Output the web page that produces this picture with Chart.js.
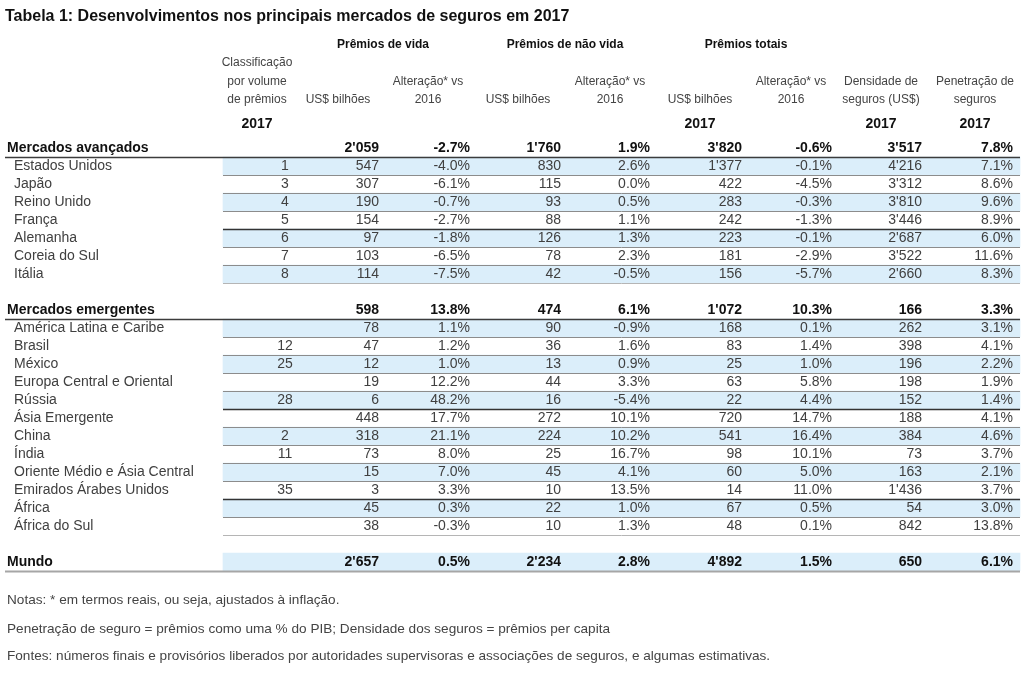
<!DOCTYPE html>
<html lang="pt">
<head>
<meta charset="utf-8">
<title>Tabela 1</title>
<script src="https://cdn.jsdelivr.net/npm/chart.js@4/dist/chart.umd.min.js"></script>
<style>
  body { margin: 0; background: #fff; }
  #box { width: 1024px; height: 673px; position: relative; }
</style>
</head>
<body>
<div id="box"><canvas id="tabela"></canvas></div>
<script>
// dados da tabela (linhas vazias = null)
const linhas = ['Mercados avançados', 'Estados Unidos', 'Japão', 'Reino Unido', 'França', 'Alemanha', 'Coreia do Sul', 'Itália', '',
  'Mercados emergentes', 'América Latina e Caribe', 'Brasil', 'México', 'Europa Central e Oriental', 'Rússia', 'Ásia Emergente',
  'China', 'Índia', 'Oriente Médio e Ásia Central', 'Emirados Árabes Unidos', 'África', 'África do Sul', '', 'Mundo'];

const classificacao = [null, 1, 3, 4, 5, 6, 7, 8, null, null, null, 12, 25, null, 28, null, 2, 11, null, 35, null, null, null, null];
const vidaUSD = [2059, 547, 307, 190, 154, 97, 103, 114, null, 598, 78, 47, 12, 19, 6, 448, 318, 73, 15, 3, 45, 38, null, 2657];
const vidaVar = [-2.7, -4.0, -6.1, -0.7, -2.7, -1.8, -6.5, -7.5, null, 13.8, 1.1, 1.2, 1.0, 12.2, 48.2, 17.7, 21.1, 8.0, 7.0, 3.3, 0.3, -0.3, null, 0.5];
const naoVidaUSD = [1760, 830, 115, 93, 88, 126, 78, 42, null, 474, 90, 36, 13, 44, 16, 272, 224, 25, 45, 10, 22, 10, null, 2234];
const naoVidaVar = [1.9, 2.6, 0.0, 0.5, 1.1, 1.3, 2.3, -0.5, null, 6.1, -0.9, 1.6, 0.9, 3.3, -5.4, 10.1, 10.2, 16.7, 4.1, 13.5, 1.0, 1.3, null, 2.8];
const totalUSD = [3820, 1377, 422, 283, 242, 223, 181, 156, null, 1072, 168, 83, 25, 63, 22, 720, 541, 98, 60, 14, 67, 48, null, 4892];
const totalVar = [-0.6, -0.1, -4.5, -0.3, -1.3, -0.1, -2.9, -5.7, null, 10.3, 0.1, 1.4, 1.0, 5.8, 4.4, 14.7, 16.4, 10.1, 5.0, 11.0, 0.5, 0.1, null, 1.5];
const densidade = [3517, 4216, 3312, 3810, 3446, 2687, 3522, 2660, null, 166, 262, 398, 196, 198, 152, 188, 384, 73, 163, 1436, 54, 842, null, 650];
const penetracao = [7.8, 7.1, 8.6, 9.6, 8.9, 6.0, 11.6, 8.3, null, 3.3, 3.1, 4.1, 2.2, 1.9, 1.4, 4.1, 4.6, 3.7, 2.1, 3.7, 3.0, 13.8, null, 6.1];

const linhasNegrito = ['Mercados avançados', 'Mercados emergentes', 'Mundo'];
const linhasFaixa = ['Estados Unidos', 'Reino Unido', 'Alemanha', 'Itália', 'América Latina e Caribe', 'México', 'Rússia',
  'China', 'Oriente Médio e Ásia Central', 'África', 'Mundo'];
const linhasSepEscuro = ['França', 'Rússia', 'Emirados Árabes Unidos'];
const linhasSepClaro = ['Itália', 'África do Sul'];

const titulo = 'Tabela 1: Desenvolvimentos nos principais mercados de seguros em 2017';
const grupos = ['Prêmios de vida', 'Prêmios de não vida', 'Prêmios totais'];
const subtitulos = [
  ['Classificação', 'por volume', 'de prêmios'],
  ['US$ bilhões'], ['Alteração* vs', '2016'],
  ['US$ bilhões'], ['Alteração* vs', '2016'],
  ['US$ bilhões'], ['Alteração* vs', '2016'],
  ['Densidade de', 'seguros (US$)'], ['Penetração de', 'seguros']
];
const anos = ['2017', '', '', '', '', '2017', '', '2017', '2017'];
const notas = [
  'Notas: * em termos reais, ou seja, ajustados à inflação.',
  'Penetração de seguro = prêmios como uma % do PIB; Densidade dos seguros = prêmios per capita',
  'Fontes: números finais e provisórios liberados por autoridades supervisoras e associações de seguros, e algumas estimativas.'
];

// layout (posições em px)
const colunas = [
  { dados: classificacao, x: 285, alinhar: 'center', fmt: 'int', cab: 257 },
  { dados: vidaUSD, x: 379, alinhar: 'right', fmt: 'mil', cab: 338 },
  { dados: vidaVar, x: 470, alinhar: 'right', fmt: 'pct', cab: 428 },
  { dados: naoVidaUSD, x: 561, alinhar: 'right', fmt: 'mil', cab: 518 },
  { dados: naoVidaVar, x: 650, alinhar: 'right', fmt: 'pct', cab: 610 },
  { dados: totalUSD, x: 742, alinhar: 'right', fmt: 'mil', cab: 700 },
  { dados: totalVar, x: 832, alinhar: 'right', fmt: 'pct', cab: 791 },
  { dados: densidade, x: 922, alinhar: 'right', fmt: 'mil', cab: 881 },
  { dados: penetracao, x: 1013, alinhar: 'right', fmt: 'pct', cab: 975 }
];
const gruposX = [383, 565, 746];
const faixaX = [223, 1020];
const fonte = "'Liberation Sans', Arial, sans-serif";

function formatar(v, fmt) {
  if (v === null) return '';
  if (fmt === 'pct') return v.toFixed(1) + '%';
  if (fmt === 'mil') return String(v).replace(/\B(?=(\d{3})+(?!\d))/g, "'");
  return String(v);
}

const tabelaPlugin = {
  id: 'tabela',
  afterDatasetsDraw(chart) {
    const { ctx, scales: { x, y } } = chart;
    const passo = y.getPixelForValue(1) - y.getPixelForValue(0);
    ctx.save();

    // linhas separadoras
    linhas.forEach((nome, i) => {
      if (nome === '') return;
      const yb = Math.round(y.getPixelForValue(i) + passo / 2) + 0.5;
      let x0 = x.getPixelForValue(faixaX[0]), cor = '#8c8c8c', larg = 1;
      if (nome === 'Mundo') { x0 = x.getPixelForValue(5); cor = '#a6a6a6'; larg = 2; }
      else if (linhasNegrito.includes(nome)) { x0 = x.getPixelForValue(5); cor = '#3c3c3c'; larg = 1.5; }
      else if (linhasSepEscuro.includes(nome)) { cor = '#333'; larg = 1.5; }
      else if (linhasSepClaro.includes(nome)) { cor = '#b5b5b5'; }
      ctx.strokeStyle = cor;
      ctx.lineWidth = larg;
      ctx.beginPath();
      ctx.moveTo(x0, yb);
      ctx.lineTo(x.getPixelForValue(faixaX[1]), yb);
      ctx.stroke();
    });

    ctx.textBaseline = 'middle';

    // titulo
    ctx.fillStyle = '#111';
    ctx.font = 'bold 16px ' + fonte;
    ctx.textAlign = 'left';
    ctx.fillText(titulo, 5, 17);

    // cabeçalhos
    ctx.font = 'bold 12px ' + fonte;
    ctx.textAlign = 'center';
    grupos.forEach((g, k) => ctx.fillText(g, gruposX[k], 45));

    ctx.font = '12px ' + fonte;
    ctx.fillStyle = '#444';
    const ysub = [63, 82, 100];
    subtitulos.forEach((linhasCab, k) => {
      const off = 3 - linhasCab.length;
      linhasCab.forEach((t, j) => ctx.fillText(t, colunas[k].cab, ysub[off + j]));
    });

    ctx.font = 'bold 14px ' + fonte;
    ctx.fillStyle = '#111';
    anos.forEach((a, k) => { if (a) ctx.fillText(a, colunas[k].cab, 124); });

    // corpo
    linhas.forEach((nome, i) => {
      if (nome === '') return;
      const yc = y.getPixelForValue(i);
      const negrito = linhasNegrito.includes(nome);
      ctx.font = (negrito ? 'bold ' : '') + '14px ' + fonte;
      ctx.fillStyle = negrito ? '#111' : '#404040';
      ctx.textAlign = 'left';
      ctx.fillText(nome, negrito ? 7 : 14, yc);
      colunas.forEach(c => {
        ctx.textAlign = c.alinhar;
        ctx.fillText(formatar(c.dados[i], c.fmt), x.getPixelForValue(c.x), yc);
      });
    });

    // notas
    ctx.font = '13.6px ' + fonte;
    ctx.fillStyle = '#444';
    ctx.textAlign = 'left';
    [600, 629, 656].forEach((yy, k) => ctx.fillText(notas[k], 7, yy));

    ctx.restore();
  }
};

const ctx1 = document.getElementById('tabela');

let grafico = new Chart(ctx1, {
  type: 'bar',
  data: {
    labels: linhas.map((l, i) => l || ' ' + i),
    datasets: [{
      label: 'faixas',
      data: linhas.map(l => linhasFaixa.includes(l) ? faixaX : null),
      backgroundColor: '#dbeefa',
      borderWidth: 0,
      barPercentage: 1,
      categoryPercentage: 1
    }]
  },
  options: {
    indexAxis: 'y',
    responsive: true,
    maintainAspectRatio: false,
    animation: false,
    layout: { padding: { top: 139, bottom: 102, left: 0, right: 0 } },
    plugins: { legend: { display: false }, tooltip: { enabled: false } },
    scales: {
      x: { type: 'linear', min: 0, max: 1024, display: false },
      y: { type: 'category', display: false, offset: true }
    }
  },
  plugins: [tabelaPlugin]
});
</script>
</body>
</html>
